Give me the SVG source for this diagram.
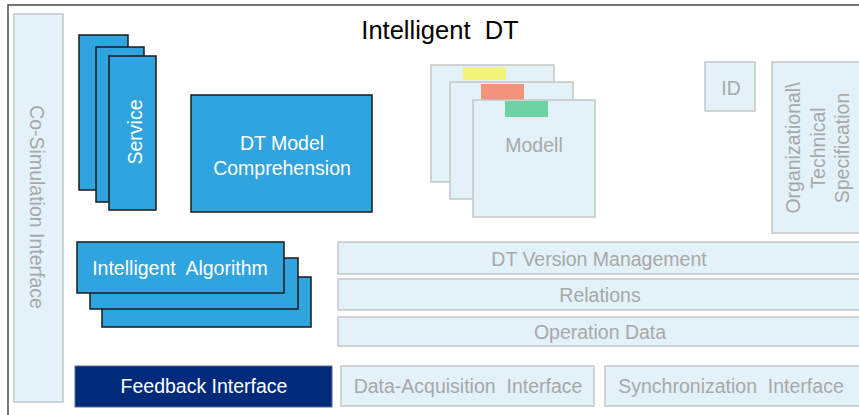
<svg xmlns="http://www.w3.org/2000/svg" width="859" height="415" viewBox="0 0 859 415">
<style>
.light{fill:#E3F1F9;stroke:#C6C6C6;stroke-width:1.5}
.blue{fill:#30A4DE;stroke:#1A1A1A;stroke-width:1.5}
.lt{font-family:"Liberation Sans",Arial,sans-serif;font-size:19.5px;fill:#A8A8A8;text-anchor:middle}
.wt{font-family:"Liberation Sans",Arial,sans-serif;font-size:19.5px;fill:#FFFFFF;text-anchor:middle}
</style>
<rect width="859" height="415" fill="#FFFFFF"/>
<g id="frame">
<polyline points="8,415 8,5 859,5" fill="none" stroke="#4A4A4A" stroke-width="1.5"/>
<text x="440" y="39" font-family="Liberation Sans,Arial,sans-serif" font-size="25.5" fill="#000" text-anchor="middle" xml:space="preserve">Intelligent  DT</text>
</g>
<g id="co-simulation">
<rect class="light" x="14" y="14" width="49" height="388"/>
<text class="lt" transform="translate(30,207) rotate(90)">Co-Simulation Interface</text>
</g>
<g id="service">
<rect class="blue" x="79" y="35" width="49" height="155"/>
<rect class="blue" x="96" y="47" width="48" height="155"/>
<rect class="blue" x="109" y="56" width="47" height="154"/>
<text class="wt" transform="translate(142,132) rotate(-90)">Service</text>
</g>
<g id="dt-model-comprehension">
<rect class="blue" x="191" y="95" width="181" height="117"/>
<text class="wt" x="282" y="150">DT Model</text>
<text class="wt" x="282" y="175">Comprehension</text>
</g>
<g id="modell">
<rect class="light" x="431" y="65" width="123" height="117"/>
<rect fill="#F2F57A" x="463" y="67" width="43" height="13"/>
<rect class="light" x="450" y="82" width="123" height="117"/>
<rect fill="#F2937B" x="481" y="84" width="43" height="16"/>
<rect class="light" x="473" y="100" width="122" height="117"/>
<rect fill="#6FD1A4" x="505" y="101" width="43" height="16"/>
<text class="lt" x="534" y="152">Modell</text>
</g>
<g id="id">
<rect class="light" x="705" y="62" width="50" height="49"/>
<text class="lt" x="731" y="95">ID</text>
</g>
<g id="specification">
<rect class="light" x="772" y="62" width="95" height="171"/>
<text class="lt" transform="translate(800,148) rotate(-90)">Organizational\</text>
<text class="lt" transform="translate(825,148) rotate(-90)">Technical</text>
<text class="lt" transform="translate(849,148) rotate(-90)">Specification</text>
</g>
<g id="intelligent-algorithm">
<rect class="blue" x="102" y="277" width="209" height="50"/>
<rect class="blue" x="90" y="258" width="208" height="51"/>
<rect class="blue" x="77" y="242" width="207" height="51"/>
<text class="wt" x="180" y="275" xml:space="preserve">Intelligent  Algorithm</text>
</g>
<g id="dt-version-management">
<rect class="light" x="338" y="242" width="530" height="32"/>
<text class="lt" x="599" y="266">DT Version Management</text>
</g>
<g id="relations">
<rect class="light" x="338" y="279" width="530" height="31"/>
<text class="lt" x="600" y="302">Relations</text>
</g>
<g id="operation-data">
<rect class="light" x="338" y="317" width="530" height="29"/>
<text class="lt" x="600" y="339">Operation Data</text>
</g>
<g id="feedback-interface">
<rect fill="#012A7B" stroke="#5A6A8A" stroke-width="1" x="75" y="366" width="257" height="41"/>
<text class="wt" x="204" y="393">Feedback Interface</text>
</g>
<g id="data-acquisition-interface">
<rect class="light" x="341" y="366" width="253" height="40"/>
<text class="lt" x="468" y="393" xml:space="preserve">Data-Acquisition  Interface</text>
</g>
<g id="synchronization-interface">
<rect class="light" x="605" y="366" width="262" height="40"/>
<text class="lt" x="731" y="393" xml:space="preserve">Synchronization  Interface</text>
</g>
<g id="connectors"/>
</svg>
